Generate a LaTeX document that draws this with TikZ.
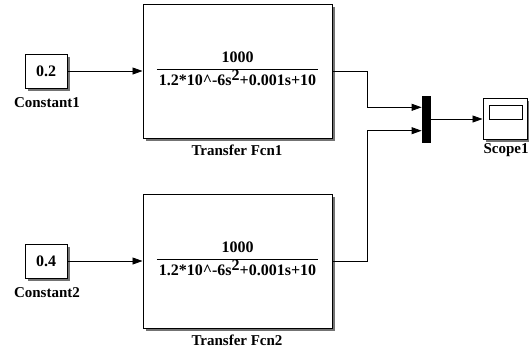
\documentclass[tikz,border=0pt]{standalone}
\usepackage{fontspec}
\setmainfont{Liberation Serif}
\usetikzlibrary{arrows.meta,calc,shadows}
\tikzset{blk/.style={draw, line width=1pt, fill=white, inner sep=0pt,
    drop shadow={shadow xshift=2.5pt, shadow yshift=-2.5pt, fill=black!55, opacity=1}}}
\tikzset{val/.style={font=\fontsize{16}{16}\selectfont\bfseries}}
\tikzset{lbl/.style={font=\fontsize{15}{15}\selectfont\bfseries}}
\newcommand{\tffrac}{{\setlength{\tabcolsep}{2pt}\setlength{\arrayrulewidth}{1.2pt}%
  \begin{tabular}{c}1000\\[1pt]\hline
  \rule{0pt}{15pt}1.2*10\textasciicircum-6s\raisebox{5pt}{2}+0.001s+10\end{tabular}}}

\begin{document}
\begin{tikzpicture}[x=1pt, y=-1pt, line width=0.8pt, >={Triangle[length=10pt,width=7pt]}]
  \useasboundingbox (0,0) rectangle (529,349);
  % sources
  \node[blk, val, minimum width=42pt, minimum height=34pt] (C1) at (46,71) {0.2};
  \node[lbl] (C1l) at (47,103) {Constant1};
  \node[blk, val, minimum width=42pt, minimum height=34pt] (C2) at (46,261) {0.4};
  \node[lbl] (C2l) at (47,293) {Constant2};
  % transfer functions
  \node[blk, val, minimum width=189pt, minimum height=134pt] (T1) at (237.5,71) {\tffrac};
  \node[lbl] (T1l) at (237,150) {Transfer Fcn1};
  \node[blk, val, minimum width=189pt, minimum height=134pt] (T2) at (237.5,261) {\tffrac};
  \node[lbl] (T2l) at (237,340.5) {Transfer Fcn2};
  % mux and scope
  \node[draw, fill=black, inner sep=0pt, minimum width=8pt, minimum height=46pt] (M) at (426,119) {};
  \coordinate (M1) at ($(M.north west)!0.25!(M.south west)$);
  \coordinate (M2) at ($(M.north west)!0.75!(M.south west)$);
  \node[blk, minimum width=44pt, minimum height=41pt] (S1) at (505,119) {};
  \draw[line width=1pt] ($(S1.center)+(-16,-14)$) rectangle ($(S1.center)+(17,0)$);
  \node[lbl] (S1l) at (506,150) {Scope1};
  % signals
  \draw[->] (C1) -- (T1);
  \draw[->] (C2) -- (T2);
  \draw[->] (T1.east) -- ++(35,0) |- (M1);
  \draw[->] (T2.east) -- ++(35,0) |- (M2);
  \draw[->] (M.east) -- (M.east -| S1.west);
\end{tikzpicture}
\end{document}
